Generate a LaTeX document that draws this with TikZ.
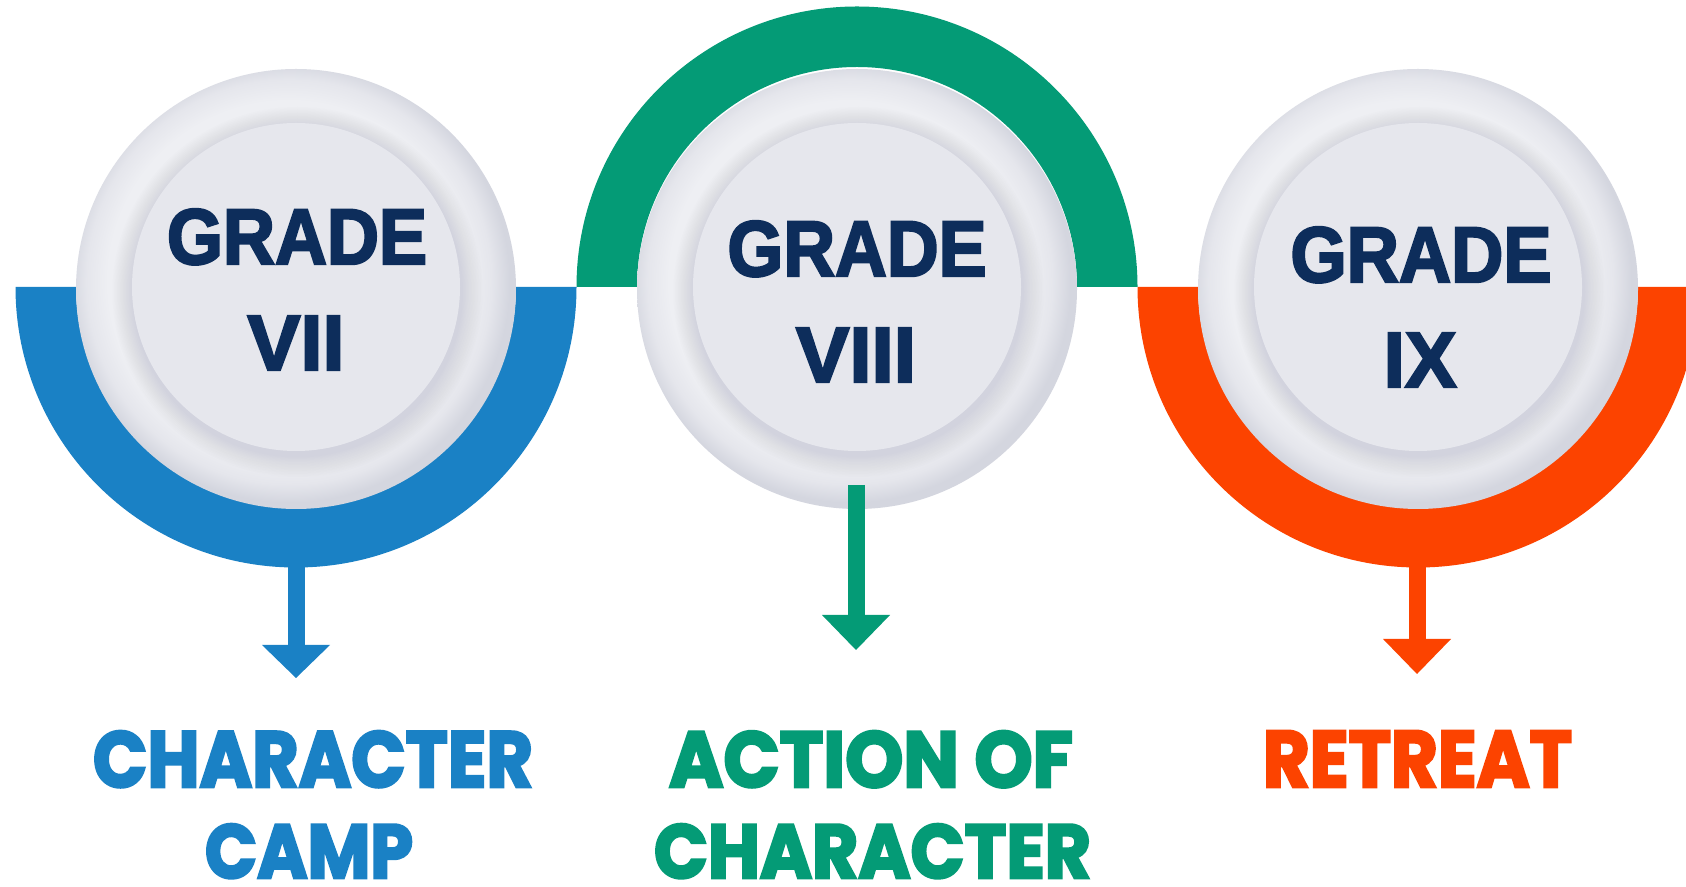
\documentclass[tikz,border=0pt]{standalone}
\usepackage{graphicx}
\usepackage{fontspec}
\newfontfamily\gradefont{Liberation Sans}[BoldFeatures={FakeBold=3}]
\newfontfamily\labfont{Poppins}[BoldFeatures={FakeBold=3.5}]
\definecolor{cb}{HTML}{1A81C5}
\definecolor{cg}{HTML}{049B76}
\definecolor{cr}{HTML}{FC4300}
\definecolor{navy}{HTML}{0D2D5B}
\definecolor{dL}{HTML}{EEEFF3}
\definecolor{dM}{HTML}{E5E6EC}
\definecolor{dD}{HTML}{D4D6DF}
\definecolor{dIn}{HTML}{E6E7ED}
\definecolor{shd}{HTML}{9A9EB2}
\pgfdeclareradialshading{discshade}{\pgfpoint{-1.5bp}{1.5bp}}{color(0bp)=(dL); color(20.5bp)=(dL); color(23bp)=(dM); color(25bp)=(dD); color(50bp)=(dD)}
\tikzset{
  disc/.style={circle, minimum size=440pt, inner sep=0pt, shading=discshade},
  innerdisc/.style={circle, minimum size=328pt, inner sep=0pt, fill=dIn},
  gtext/.style={anchor=base, inner sep=0pt, text depth=0pt, text=navy},
  ltext/.style={anchor=base, inner sep=0pt, text depth=0pt},
  stem/.style={line width=17pt},
}
\newcommand{\gr}[3]{\resizebox{#1pt}{#2pt}{\gradefont\bfseries\fontsize{60}{60}\selectfont #3}}
\newcommand{\lb}[3]{\resizebox{#1pt}{#2pt}{\labfont\bfseries\fontsize{60}{60}\selectfont #3}}
\begin{document}
\begin{tikzpicture}[x=1pt,y=1pt]
\useasboundingbox (0,0) rectangle (1686,886);
\fill[white] (0,0) rectangle (1686,886);
\clip (0,0) rectangle (1686,886);
% bands
\fill[cb] (15.5,599) arc[start angle=180,end angle=360,radius=280.5] -- (516,599) arc[start angle=360,end angle=180,radius=220] -- cycle;
\fill[cg] (576.5,599) arc[start angle=180,end angle=0,radius=280.5] -- (1077,599) arc[start angle=0,end angle=180,radius=220] -- cycle;
\fill[cr] (1137.5,599) arc[start angle=180,end angle=360,radius=280.5] -- (1638,599) arc[start angle=360,end angle=180,radius=220] -- cycle;
% discs
\foreach \cx/\n in {296/1,857/2,1418/3}{
  \node[disc] (c\n) at (\cx,597) {};
  \foreach \k in {1,...,14}{
    \fill[shd,opacity=0.02] (\cx+1.5,594) circle (164+\k*1.5);
  }
  \node[innerdisc] (i\n) at (\cx,599) {};
}
% grade texts
\node[gtext] (g1) at (297,622) {\gr{260}{55}{GRADE}};
\node[gtext] (r1) at (296,516) {\gr{97}{54}{VII}};
\node[gtext] (g2) at (857,610) {\gr{259}{55}{GRADE}};
\node[gtext] (r2) at (856,504) {\gr{120}{54}{VIII}};
\node[gtext] (g3) at (1421,604) {\gr{261}{55}{GRADE}};
\node[gtext] (r3) at (1420,499) {\gr{73}{54}{IX}};
% labels
\node[ltext,text=cb] (l1a) at (313,99) {\lb{440}{56}{CHARACTER}};
\node[ltext,text=cb] (l1b) at (309,8) {\lb{208}{54}{CAMP}};
\node[ltext,text=cg] (l2a) at (871,99) {\lb{404}{56}{ACTION OF}};
\node[ltext,text=cg] (l2b) at (872.5,8) {\lb{437}{54}{CHARACTER}};
\node[ltext,text=cr] (l3a) at (1417.5,99) {\lb{309}{56}{RETREAT}};
% arrows: stem from circle to arrow-head base, head ends at tip
\coordinate (s1) at (296,322);
\coordinate (b1) at (296,241);
\coordinate (t1) at (296,208);
\coordinate (s2) at (856,401);
\coordinate (b2) at (856,271);
\coordinate (t2) at (856,236);
\coordinate (s3) at (1417,322);
\coordinate (b3) at (1417,247);
\coordinate (t3) at (1417,212);
\foreach \n/\c in {1/cb,2/cg,3/cr}{
  \draw[stem,\c] (s\n) -- ([yshift=-2pt]b\n);
  \fill[\c] (t\n) -- ([xshift=-34pt]b\n) -- ([xshift=34pt]b\n) -- cycle;
}
\end{tikzpicture}
\end{document}
